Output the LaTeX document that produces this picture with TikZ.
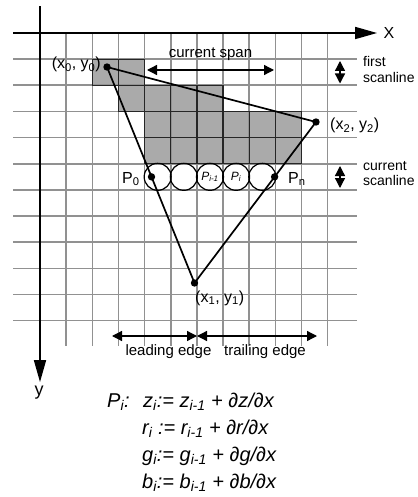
\documentclass[tikz,border=0pt]{standalone}
\usepackage{fontspec}
\setmainfont{Liberation Sans}
\usetikzlibrary{arrows.meta,calc}
\newcommand\fsz[1]{\fontsize{#1}{#1}\selectfont}
\definecolor{gridgray}{RGB}{145,145,145}
\definecolor{shadegray}{RGB}{170,170,170}
\begin{document}
\begin{tikzpicture}[x=1pt,y=-1pt,
  gridline/.style={draw=gridgray, line width=1.6pt},
  cellline/.style={draw=black!85, line width=1.2pt},
  axisline/.style={draw=black, line width=1.6pt, -{Triangle[length=22pt,width=12pt]}},
  edgeline/.style={draw=black, line width=1.7pt},
  circ/.style={draw=black, line width=1.2pt},
  dot/.style={fill=black},
  dimarrow/.style={draw=black, line width=1.3pt, {Triangle[length=10pt,width=10pt]}-{Triangle[length=10pt,width=10pt]}},
  lbl/.style={inner sep=0pt, font=\fsz{16}},
  smalllbl/.style={inner sep=0pt, font=\fsz{14.5}},
  eq/.style={inner sep=0pt, anchor=base west, font=\fsz{20}\itshape}]
\useasboundingbox (0,0) rectangle (417,497);
\fill[white] (0,0) rectangle (417,497);
\begin{scope}[shift={(40,33)}, x=26.15pt, y=-26.15pt]
  % shaded cells
  \fill[shadegray] (2,1) rectangle (4,2) (3,2) rectangle (7,3) (4,3) rectangle (10,5);
  % grid
  \foreach \i in {1,...,11} \draw[gridline] (\i,0) -- (\i,11.97);
  \foreach \j in {1,...,11} \draw[gridline] (-1.03,\j) -- (12.12,\j);
  % dark borders of shaded cells
  \foreach \i in {2,3} \draw[cellline] (\i,1) rectangle ++(1,1);
  \foreach \i in {3,...,6} \draw[cellline] (\i,2) rectangle ++(1,1);
  \foreach \i in {4,...,9} \foreach \j in {3,4} \draw[cellline] (\i,\j) rectangle ++(1,1);
  % axes
  \coordinate (xs) at (-1.03,0);
  \coordinate (xe) at (12.89,0);
  \coordinate (ys) at (0,-1.03);
  \coordinate (ye) at (0,13.35);
  \draw[axisline] (xs) -- (xe);
  \draw[axisline] (ys) -- (ye);
  % pixel circles
  \foreach \i in {4,...,8} \draw[circ] (\i+0.5,5.5) circle[radius=13.5pt];
  \coordinate (cim) at (6.5,5.5);
  \coordinate (ci) at (7.5,5.5);
\end{scope}
% triangle
\coordinate (A) at (107,67);
\coordinate (B) at (316,122);
\coordinate (C) at (194.5,283);
\draw[edgeline] (A) -- (B) -- (C) -- cycle;
\coordinate (P0) at ($(A)!0.5086!(C)$);
\coordinate (Pn) at ($(B)!0.3407!(C)$);
\foreach \p in {A,B,C,P0,Pn} \fill[dot] (\p) circle[radius=3.7pt];
% labels of vertices
\node[lbl, anchor=base east] (lA) at (101,69) {(x\textsubscript{0}, y\textsubscript{0})};
\node[lbl, anchor=base west] (lB) at (330,129.5) {(x\textsubscript{2}, y\textsubscript{2})};
\node[lbl, anchor=base west] (lC) at (195,302) {(x\textsubscript{1}, y\textsubscript{1})};
\node[lbl, anchor=base west] (lP0) at (122,183) {P\textsubscript{0}};
\node[lbl, anchor=base west] (lPn) at (288,183) {P\textsubscript{n}};
\node[inner sep=0pt, font=\fsz{12}\itshape] (lPim) at (cim) {P\textsubscript{i-1}};
\node[inner sep=0pt, font=\fsz{12}\itshape] (lPi) at (ci) {P\textsubscript{i}};
% axis labels
\node[inner sep=0pt, font=\fsz{16}] (lX) at (389,33) {X};
\node[inner sep=0pt, font=\fsz{18}] (lY) at (39,393) {y};
% current span
\coordinate (sL) at (147,70);
\coordinate (sR) at (274,70);
\draw[dimarrow] (sL) -- (sR);
\node[smalllbl, anchor=base, font=\fsz{15}] (lspan) at (210.5,57.5) {current span};
% scanline arrows
\coordinate (f1) at (340,61);
\coordinate (f2) at (340,83.5);
\draw[dimarrow] (f1) -- (f2);
\node[smalllbl, anchor=base west, font=\fsz{14}] (lf1) at (363,67) {first};
\node[smalllbl, anchor=base west, font=\fsz{14}] (lf2) at (363,83) {scanline};
\coordinate (c1) at (340,166);
\coordinate (c2) at (340,188);
\draw[dimarrow] (c1) -- (c2);
\node[smalllbl, anchor=base west, font=\fsz{14}] (lc1) at (363,170) {current};
\node[smalllbl, anchor=base west, font=\fsz{14}] (lc2) at (363,185) {scanline};
% leading / trailing edge
\coordinate (eL) at (112,336);
\coordinate (eM) at (197,336);
\coordinate (eR) at (317,336);
\draw[dimarrow] (eL) -- (eM);
\draw[dimarrow] (eM) -- (eR);
\node[smalllbl, anchor=base, font=\fsz{15}] (llead) at (168.5,355) {leading edge};
\node[smalllbl, anchor=base, font=\fsz{15}] (ltrail) at (265,355) {trailing edge};
% equations
\node[eq] (e0) at (107,407) {P\textsubscript{i}:};
\node[eq] (e1) at (143,407) {z\textsubscript{i}:= z\textsubscript{i-1} + ∂z/∂x};
\node[eq] (e2) at (142,434) {r\textsubscript{i} := r\textsubscript{i-1} + ∂r/∂x};
\node[eq] (e3) at (142,461) {g\textsubscript{i}:= g\textsubscript{i-1} + ∂g/∂x};
\node[eq] (e4) at (142,488) {b\textsubscript{i}:= b\textsubscript{i-1} + ∂b/∂x};
\end{tikzpicture}
\end{document}
